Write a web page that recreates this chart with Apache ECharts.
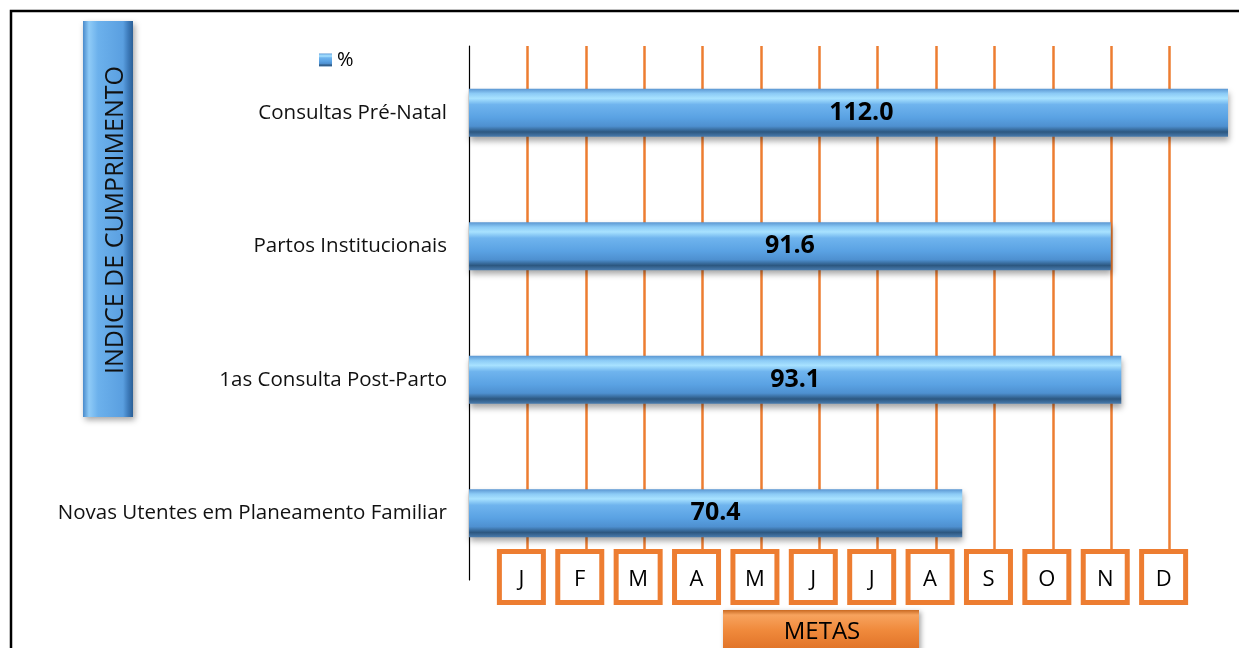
<!DOCTYPE html>
<html>
<head>
<meta charset="utf-8">
<script src="https://cdn.jsdelivr.net/npm/echarts@6/dist/echarts.min.js"></script>
<style>
html,body{margin:0;padding:0;background:#fff;}
#c{width:1239px;height:648px;}
</style>
</head>
<body>
<div id="c"></div>
<script>
const categories = ['Consultas Pré-Natal', 'Partos Institucionais', '1as Consulta Post-Parto', 'Novas Utentes em Planeamento Familiar'];
const values = [112.0, 91.6, 93.1, 70.4];
const seriesName = '%';
const months = ['J', 'F', 'M', 'A', 'M', 'J', 'J', 'A', 'S', 'O', 'N', 'D'];
const monthStep = 100 / 12;
const yTitle = 'INDICE DE CUMPRIMENTO';
const xTitle = 'METAS';

const FONT = '"Open Sans", "Noto Sans", sans-serif';
const chart = echarts.init(document.getElementById('c'), null, {renderer: 'canvas'});
const axisMax = monthStep * 13;

const barGradient = new echarts.graphic.LinearGradient(0, 0, 0, 1, [
  {offset: 0, color: '#5a96d2'},
  {offset: 0.1, color: '#8ccbf6'},
  {offset: 0.2, color: '#a8e2ff'},
  {offset: 0.33, color: '#6fb4ee'},
  {offset: 0.6, color: '#5aa2e3'},
  {offset: 0.78, color: '#4e90d0'},
  {offset: 0.9, color: '#2c5780'},
  {offset: 1, color: '#4a7cae'}
]);

const monthLines = months.map((m, i) => ({xAxis: (i + 1) * monthStep}));

chart.setOption({
  animation: false,
  backgroundColor: '#fff',
  legend: {
    left: 314, top: 45,
    icon: 'rect',
    itemWidth: 13, itemHeight: 13, itemGap: 4,
    textStyle: {fontFamily: FONT, fontSize: 20, color: '#000'},
    data: [seriesName]
  },
  grid: {left: 469, right: 11, top: 46, bottom: 68, containLabel: false},
  xAxis: {
    type: 'value',
    min: 0,
    max: axisMax,
    interval: monthStep,
    axisLine: {show: false},
    axisTick: {show: false},
    axisLabel: {show: false},
    splitLine: {show: false}
  },
  yAxis: {
    type: 'category',
    inverse: true,
    data: categories,
    axisLine: {show: true, lineStyle: {color: '#000', width: 1.2}},
    axisTick: {show: false},
    axisLabel: {fontFamily: FONT, fontSize: 20.5, color: '#111', margin: 22}
  },
  series: [{
    name: seriesName,
    type: 'bar',
    data: values,
    barWidth: 48,
    clip: true,
    z: 3,
    itemStyle: {
      color: barGradient,
      shadowColor: 'rgba(0,0,0,0.35)',
      shadowBlur: 6,
      shadowOffsetY: 4,
      shadowOffsetX: 1
    },
    label: {
      show: true,
      position: 'inside',
      fontFamily: FONT,
      fontWeight: 'bold',
      fontSize: 25,
      color: '#000',
      formatter: p => p.value.toFixed(1)
    },
    markLine: {
      silent: true,
      z: 1,
      symbol: ['none', 'none'],
      label: {show: false},
      lineStyle: {color: '#ED7D31', width: 2.5, type: 'solid'},
      emphasis: {disabled: true},
      data: monthLines
    }
  }]
});

// bars longer than the axis are clipped; keep their label centred on the full bar length
const edgePx = chart.convertToPixel({xAxisIndex: 0}, axisMax);
const seriesData = values.map(v => {
  if (v <= axisMax) return v;
  const over = chart.convertToPixel({xAxisIndex: 0}, v) - edgePx;
  return {value: v, label: {offset: [over / 2, 0]}};
});
chart.setOption({series: [{data: seriesData}]});

const graphics = [];
graphics.push({
  type: 'rect', z: 100, silent: true,
  shape: {x: 11, y: 11, width: 1300, height: 700},
  style: {fill: null, stroke: '#000', lineWidth: 2.5}
});
graphics.push({
  type: 'rect', z: 50,
  shape: {x: 83, y: 21, width: 50, height: 396},
  style: {
    fill: new echarts.graphic.LinearGradient(0, 0, 1, 0, [
      {offset: 0, color: '#4a8bcb'},
      {offset: 0.12, color: '#8fcbf7'},
      {offset: 0.3, color: '#6cb1ec'},
      {offset: 0.8, color: '#5a9fe0'},
      {offset: 0.9, color: '#3e7cbc'},
      {offset: 1, color: '#2a5f96'}
    ]),
    shadowColor: 'rgba(0,0,0,0.35)', shadowBlur: 6, shadowOffsetX: 2, shadowOffsetY: 3
  }
});
graphics.push({
  type: 'text', z: 51,
  x: 116, y: 220, rotation: Math.PI / 2,
  style: {text: yTitle, fontFamily: FONT, fontSize: 25, fill: '#111', align: 'center', verticalAlign: 'middle'}
});
graphics.push({
  type: 'rect', z: 50,
  shape: {x: 723, y: 610, width: 196, height: 50},
  style: {
    fill: new echarts.graphic.LinearGradient(0, 0, 0, 1, [
      {offset: 0, color: '#c96a22'},
      {offset: 0.1, color: '#f7a35e'},
      {offset: 0.4, color: '#f08a3c'},
      {offset: 1, color: '#d8661c'}
    ]),
    shadowColor: 'rgba(0,0,0,0.35)', shadowBlur: 5, shadowOffsetX: 2, shadowOffsetY: 2
  }
});
graphics.push({
  type: 'text', z: 51, x: 822, y: 632,
  style: {text: xTitle, fontFamily: FONT, fontSize: 24, fill: '#000', align: 'center', verticalAlign: 'middle'}
});
months.forEach((m, i) => {
  const cx = chart.convertToPixel({xAxisIndex: 0}, (i + 1) * monthStep) - 6;
  graphics.push({
    type: 'rect', z: 40,
    shape: {x: cx - 22, y: 551.5, width: 44, height: 51},
    style: {fill: '#fff', stroke: '#ED7D31', lineWidth: 5}
  });
  graphics.push({
    type: 'text', z: 41, x: cx, y: 580,
    style: {text: m, fontFamily: FONT, fontSize: 22, fill: '#000', align: 'center', verticalAlign: 'middle'}
  });
});
chart.setOption({graphic: graphics});
</script>
</body>
</html>
